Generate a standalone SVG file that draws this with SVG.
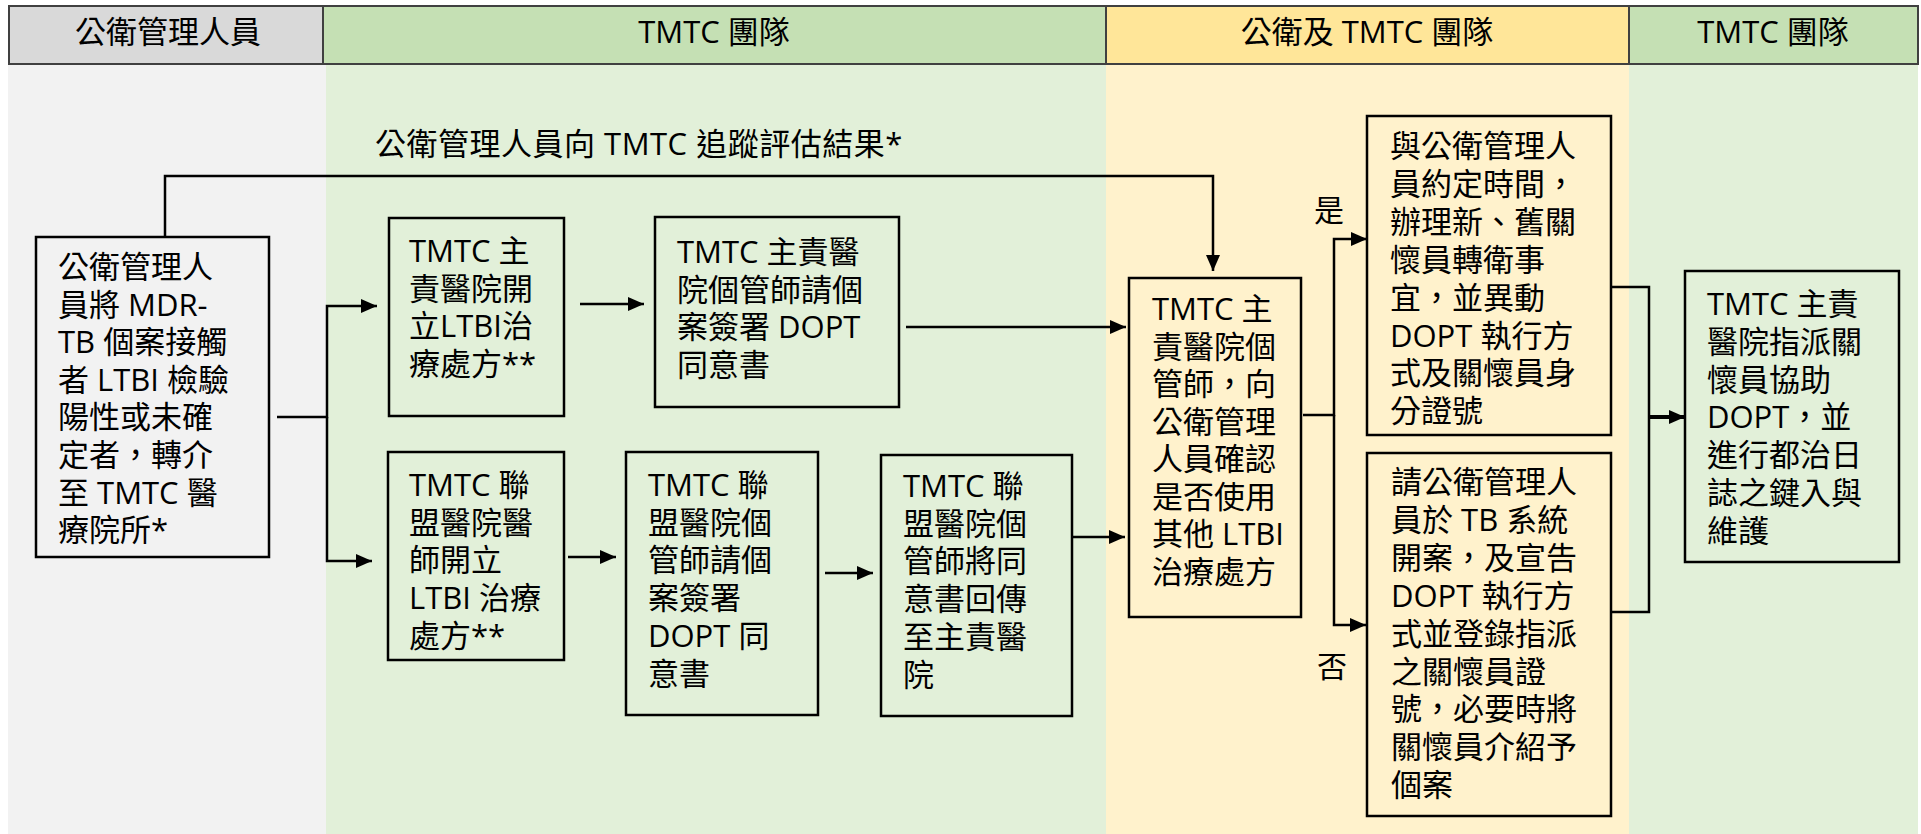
<svg xmlns="http://www.w3.org/2000/svg" width="1921" height="834" viewBox="0 0 1921 834">
<style>
text{font-family:"Open Sans","Noto Sans CJK TC",sans-serif;font-size:31px;fill:#000}
.hd{stroke:#404040;stroke-width:2}
.box{stroke:#000;stroke-width:2.5}
.cn{fill:none;stroke:#000;stroke-width:2.5}
.lbl{font-size:30px}
</style>
<defs>
<marker id="ah" markerUnits="userSpaceOnUse" markerWidth="17" markerHeight="14" refX="16" refY="7" orient="auto">
<path d="M0,0 L16,7 L0,14 z" fill="#000"/>
</marker>
</defs>
<rect x="0" y="0" width="1921" height="834" fill="#fff"/>
<g id="lanes">
<rect x="8" y="64" width="318" height="770" fill="#f2f2f2"/>
<rect x="326" y="64" width="780" height="770" fill="#e2f0d9"/>
<rect x="1106" y="64" width="523" height="770" fill="#fff2cc"/>
<rect x="1629" y="64" width="289" height="770" fill="#e2f0d9"/>
</g>
<g id="headers">
<rect class="hd" x="9" y="6" width="314" height="58" fill="#d9d9d9"/>
<rect class="hd" x="323" y="6" width="783" height="58" fill="#c5e0b4"/>
<rect class="hd" x="1106" y="6" width="523" height="58" fill="#ffe699"/>
<rect class="hd" x="1629" y="6" width="289" height="58" fill="#c5e0b4"/>
<text x="168" y="43" text-anchor="middle">公衛管理人員</text>
<text x="714" y="43" text-anchor="middle">TMTC 團隊</text>
<text x="1367" y="43" text-anchor="middle">公衛及 TMTC 團隊</text>
<text x="1773" y="43" text-anchor="middle">TMTC 團隊</text>
</g>
<g id="connectors">
<path class="cn" d="M165,237 V176 H1213 V271" marker-end="url(#ah)"/>
<path class="cn" d="M277,417 H327 V306 H377" marker-end="url(#ah)"/>
<path class="cn" d="M327,417 V561 H372" marker-end="url(#ah)"/>
<path class="cn" d="M580,304 H644" marker-end="url(#ah)"/>
<path class="cn" d="M906,327 H1126" marker-end="url(#ah)"/>
<path class="cn" d="M568,557 H616" marker-end="url(#ah)"/>
<path class="cn" d="M825,573 H873" marker-end="url(#ah)"/>
<path class="cn" d="M1072,537 H1125" marker-end="url(#ah)"/>
<path class="cn" d="M1303,415 H1334 V239 H1367" marker-end="url(#ah)"/>
<path class="cn" d="M1334,415 V625 H1366" marker-end="url(#ah)"/>
<path class="cn" d="M1611,287 H1649 V612 H1611"/>
<path class="cn" style="stroke-width:4" d="M1649,417 H1685" marker-end="url(#ah)"/>
<text x="375" y="155" letter-spacing="0.5">公衛管理人員向 TMTC 追蹤評估結果*</text>
<text class="lbl" x="1329" y="221" text-anchor="middle">是</text>
<text class="lbl" x="1332" y="677" text-anchor="middle">否</text>
</g>
<g id="n1">
<rect class="box" x="36" y="237" width="233" height="320" fill="#f2f2f2"/>
<text x="58" y="278"><tspan x="58">公衛管理人</tspan><tspan x="58" dy="37.6">員將 MDR-</tspan><tspan x="58" dy="37.6">TB 個案接觸</tspan><tspan x="58" dy="37.6">者 LTBI 檢驗</tspan><tspan x="58" dy="37.6">陽性或未確</tspan><tspan x="58" dy="37.6">定者，轉介</tspan><tspan x="58" dy="37.6">至 TMTC 醫</tspan><tspan x="58" dy="37.6">療院所*</tspan></text>
</g>
<g id="n2">
<rect class="box" x="389" y="218" width="175" height="198" fill="#e2f0d9"/>
<text x="409" y="262"><tspan x="409">TMTC 主</tspan><tspan x="409" dy="37.7">責醫院開</tspan><tspan x="409" dy="37.7">立LTBI治</tspan><tspan x="409" dy="37.7">療處方**</tspan></text>
</g>
<g id="n3">
<rect class="box" x="655" y="217" width="244" height="190" fill="#e2f0d9"/>
<text x="677" y="263"><tspan x="677">TMTC 主責醫</tspan><tspan x="677" dy="37.7">院個管師請個</tspan><tspan x="677" dy="37.7">案簽署 DOPT</tspan><tspan x="677" dy="37.7">同意書</tspan></text>
</g>
<g id="n4">
<rect class="box" x="1129" y="278" width="172" height="339" fill="#fff2cc"/>
<text x="1152" y="320"><tspan x="1152">TMTC 主</tspan><tspan x="1152" dy="37.5">責醫院個</tspan><tspan x="1152" dy="37.5">管師，向</tspan><tspan x="1152" dy="37.5">公衛管理</tspan><tspan x="1152" dy="37.5">人員確認</tspan><tspan x="1152" dy="37.5">是否使用</tspan><tspan x="1152" dy="37.5">其他 LTBI</tspan><tspan x="1152" dy="37.5">治療處方</tspan></text>
</g>
<g id="n5">
<rect class="box" x="1367" y="116" width="244" height="319" fill="#fff2cc"/>
<text x="1390" y="157"><tspan x="1390">與公衛管理人</tspan><tspan x="1390" dy="37.9">員約定時間，</tspan><tspan x="1390" dy="37.9">辦理新、舊關</tspan><tspan x="1390" dy="37.9">懷員轉衛事</tspan><tspan x="1390" dy="37.9">宜，並異動</tspan><tspan x="1390" dy="37.9">DOPT 執行方</tspan><tspan x="1390" dy="37.9">式及關懷員身</tspan><tspan x="1390" dy="37.9">分證號</tspan></text>
</g>
<g id="n6">
<rect class="box" x="1367" y="453" width="244" height="363" fill="#fff2cc"/>
<text x="1391" y="493"><tspan x="1391">請公衛管理人</tspan><tspan x="1391" dy="37.9">員於 TB 系統</tspan><tspan x="1391" dy="37.9">開案，及宣告</tspan><tspan x="1391" dy="37.9">DOPT 執行方</tspan><tspan x="1391" dy="37.9">式並登錄指派</tspan><tspan x="1391" dy="37.9">之關懷員證</tspan><tspan x="1391" dy="37.9">號，必要時將</tspan><tspan x="1391" dy="37.9">關懷員介紹予</tspan><tspan x="1391" dy="37.9">個案</tspan></text>
</g>
<g id="n7">
<rect class="box" x="1685" y="271" width="214" height="291" fill="#e2f0d9"/>
<text x="1707" y="315"><tspan x="1707">TMTC 主責</tspan><tspan x="1707" dy="37.8">醫院指派關</tspan><tspan x="1707" dy="37.8">懷員協助</tspan><tspan x="1707" dy="37.8">DOPT，並</tspan><tspan x="1707" dy="37.8">進行都治日</tspan><tspan x="1707" dy="37.8">誌之鍵入與</tspan><tspan x="1707" dy="37.8">維護</tspan></text>
</g>
<g id="n8">
<rect class="box" x="388" y="452" width="176" height="208" fill="#e2f0d9"/>
<text x="409" y="496"><tspan x="409">TMTC 聯</tspan><tspan x="409" dy="37.7">盟醫院醫</tspan><tspan x="409" dy="37.7">師開立</tspan><tspan x="409" dy="37.7">LTBI 治療</tspan><tspan x="409" dy="37.7">處方**</tspan></text>
</g>
<g id="n9">
<rect class="box" x="626" y="452" width="192" height="263" fill="#e2f0d9"/>
<text x="648" y="496"><tspan x="648">TMTC 聯</tspan><tspan x="648" dy="37.7">盟醫院個</tspan><tspan x="648" dy="37.7">管師請個</tspan><tspan x="648" dy="37.7">案簽署</tspan><tspan x="648" dy="37.7">DOPT 同</tspan><tspan x="648" dy="37.7">意書</tspan></text>
</g>
<g id="n10">
<rect class="box" x="881" y="455" width="191" height="261" fill="#e2f0d9"/>
<text x="903" y="497"><tspan x="903">TMTC 聯</tspan><tspan x="903" dy="37.7">盟醫院個</tspan><tspan x="903" dy="37.7">管師將同</tspan><tspan x="903" dy="37.7">意書回傳</tspan><tspan x="903" dy="37.7">至主責醫</tspan><tspan x="903" dy="37.7">院</tspan></text>
</g>
</svg>
